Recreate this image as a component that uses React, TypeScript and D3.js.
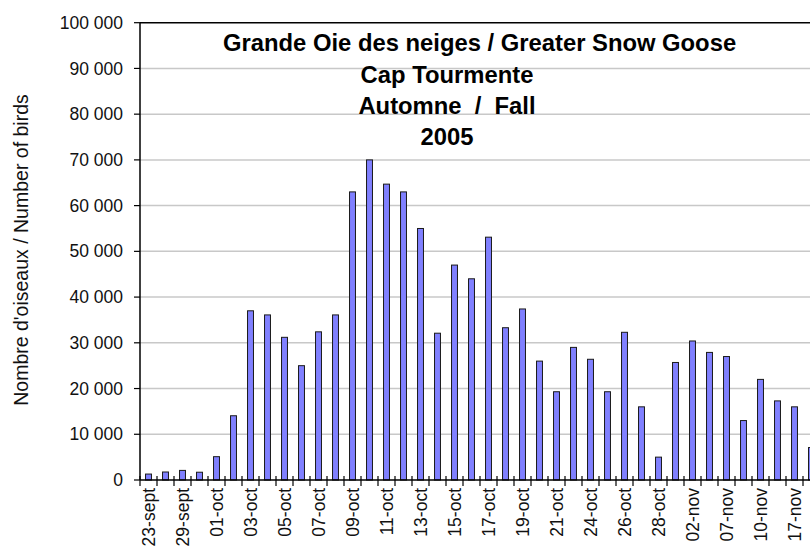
import React from 'react';
import * as d3 from 'd3';

// count dates (only every other one is labelled on the axis)
const dates = [
  '23-sept', '26-sept', '29-sept', '30-sept', '01-oct', '02-oct', '03-oct', '04-oct',
  '05-oct', '06-oct', '07-oct', '08-oct', '09-oct', '10-oct', '11-oct', '12-oct',
  '13-oct', '14-oct', '15-oct', '16-oct', '17-oct', '18-oct', '19-oct', '20-oct',
  '21-oct', '22-oct', '24-oct', '25-oct', '26-oct', '27-oct', '28-oct', '31-oct',
  '02-nov', '04-nov', '07-nov', '09-nov', '10-nov', '14-nov', '17-nov', '21-nov',
];

const birds = [
  1300, 1750, 2100, 1700, 5100, 14050, 37000, 36100,
  31200, 25000, 32400, 36100, 63000, 70000, 64700, 63000,
  55000, 32100, 47000, 44000, 53100, 33300, 37400, 26000,
  19300, 29000, 26400, 19300, 32300, 16000, 5000, 25700,
  30400, 27900, 27000, 13000, 22000, 17300, 16000, 7100,
];

const yTicks = [0, 10000, 20000, 30000, 40000, 50000, 60000, 70000, 80000, 90000, 100000];

const titleLines = [
  'Grande Oie des neiges / Greater Snow Goose',
  'Cap Tourmente',
  'Automne  /  Fall',
  '2005',
];

const yTitle = "Nombre d'oiseaux / Number of birds";

export default function App() {
  const width = 810;
  const height = 549;
  const plotLeft = 140;
  const plotTop = 22.7;
  const plotBottom = 480;
  const step = 17;
  const plotRight = plotLeft + step * dates.length;
  const font = "'Liberation Sans', Arial, sans-serif";

  const x = d3.scaleBand()
    .domain(dates)
    .range([plotLeft, plotRight])
    .paddingInner(0.65)
    .paddingOuter(0.325);

  const xSlot = d3.scaleBand()
    .domain(dates)
    .range([plotLeft, plotRight]);

  const y = d3.scaleLinear()
    .domain([0, 100000])
    .range([plotBottom, plotTop]);

  const fmt = (v: number) => d3.format(',')(v).replace(/,/g, ' ');

  // title: first line starts at 223, the others are centred a bit left of it
  const titleX = [223, 447, 447, 447];
  const titleY = [51, 82.5, 113.5, 145];

  return (
    <svg width={width} height={height} style={{ position: 'absolute', left: 0, top: 0, background: '#fff' }}>
      {/* gridlines */}
      {yTicks.slice(1, -1).map(t => (
        <line key={'g' + t} x1={plotLeft} x2={plotRight} y1={y(t)} y2={y(t)} stroke="#c8c8c8" strokeWidth={1.5} />
      ))}
      {/* plot area top border */}
      <line x1={plotLeft} x2={plotRight} y1={y(100000)} y2={y(100000)} stroke="#000" strokeWidth={1.5} />

      {/* bars */}
      {birds.map((v, i) => (
        <rect
          key={'b' + i}
          x={x(dates[i])}
          y={y(v)}
          width={x.bandwidth()}
          height={plotBottom - y(v)}
          fill="#8080ff"
          stroke="#1a1a1a"
          strokeWidth={1}
        />
      ))}

      {/* y axis */}
      <line x1={plotLeft} x2={plotLeft} y1={plotTop} y2={plotBottom} stroke="#000" strokeWidth={1.5} />
      {yTicks.map(t => (
        <g key={'y' + t}>
          <line x1={plotLeft - 6} x2={plotLeft} y1={y(t)} y2={y(t)} stroke="#000" strokeWidth={1.2} />
          <text x={123} y={y(t)} dy="0.35em" textAnchor="end" fontFamily={font} fontSize={17.5} fill="#111">
            {fmt(t)}
          </text>
        </g>
      ))}

      {/* x axis */}
      <line x1={plotLeft} x2={plotRight} y1={plotBottom} y2={plotBottom} stroke="#000" strokeWidth={1.5} />
      {dates.map((d, i) => (
        <line key={'xt' + i} x1={xSlot(d)} x2={xSlot(d)} y1={plotBottom - 4} y2={plotBottom + 6} stroke="#000" strokeWidth={1.2} />
      ))}
      {dates.map((d, i) => {
        if (i % 2 !== 0) return null;
        const cx = (xSlot(d) as number) + xSlot.bandwidth() / 2;
        const cy = 488;
        return (
          <text key={'xl' + i} x={cx} y={cy} dy="0.35em" textAnchor="end" transform={`rotate(-90, ${cx}, ${cy})`}
            fontFamily={font} fontSize={17.5} fill="#111">
            {d}
          </text>
        );
      })}

      {/* axis title */}
      <text x={21} y={250} dy="0.35em" textAnchor="middle" transform="rotate(-90, 21, 250)"
        fontFamily={font} fontSize={19.5} fill="#111">
        {yTitle}
      </text>

      {/* chart title */}
      {titleLines.map((line, i) => (
        <text key={'t' + i} x={titleX[i]} y={titleY[i]} textAnchor={i === 0 ? 'start' : 'middle'}
          fontFamily={font} fontSize={23.8} fontWeight="bold" fill="#000" style={{ whiteSpace: 'pre' }}>
          {line}
        </text>
      ))}
    </svg>
  );
}
